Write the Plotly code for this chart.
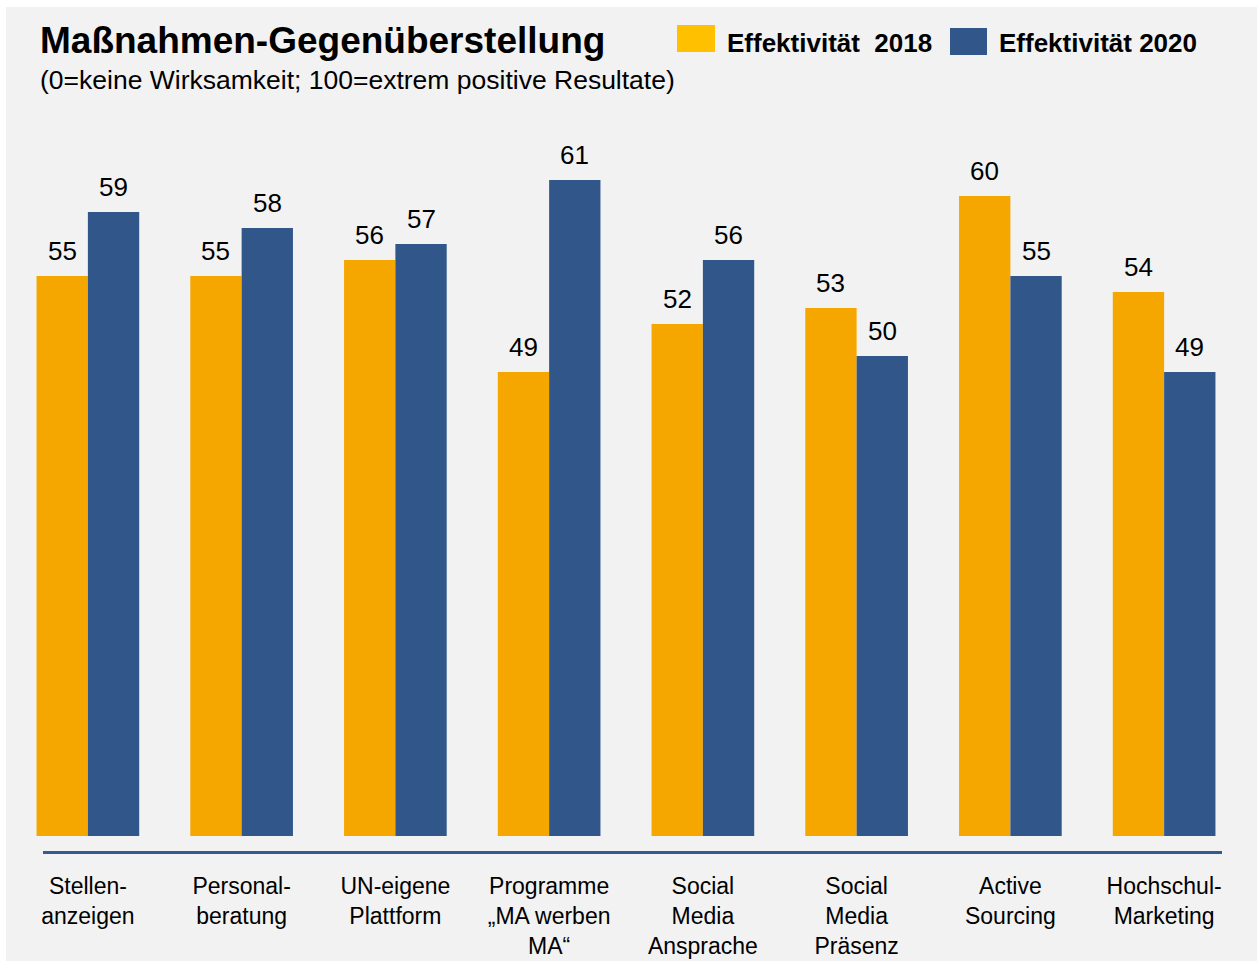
import plotly.graph_objects as go

# Categories (multi-line labels) and effectiveness scores
categories = [
    "Stellen-<br>anzeigen",
    "Personal-<br>beratung",
    "UN-eigene<br>Plattform",
    "Programme<br>„MA werben<br>MA“",
    "Social<br>Media<br>Ansprache",
    "Social<br>Media<br>Präsenz",
    "Active<br>Sourcing",
    "Hochschul-<br>Marketing",
]
effekt_2018 = [55, 55, 56, 49, 52, 53, 60, 54]
effekt_2020 = [59, 58, 57, 61, 56, 50, 55, 49]
series_names = ["Effektivität\u00a0\u00a02018", "Effektivität 2020"]

BASE = 20  # bars start at this value on the scale

ORANGE = "#F5A700"
ORANGE_LEGEND = "#FFC000"
BLUE = "#31568A"
AXIS_BLUE = "#36598F"
BG = "#F2F2F2"
FONT = "Liberation Sans, Arial, sans-serif"

W, H = 1259, 961
ML, MR, MT, MB = 11, 18, 100, 109
PW, PH = W - ML - MR, H - MT - MB
BARGAP = 0.3324


def px_x(px):
    return (px - ML) / PW


def px_y(py):
    return (H - MB - py) / PH


fig = go.Figure()
for vals, color, name in [(effekt_2018, ORANGE, series_names[0]),
                          (effekt_2020, BLUE, series_names[1])]:
    fig.add_trace(go.Bar(
        x=categories,
        y=[v - BASE for v in vals],
        base=BASE,
        name=name,
        marker=dict(color=color, line=dict(width=0)),
        customdata=vals,
        hovertemplate="%{x}: %{customdata}<extra>" + name + "</extra>",
    ))

# Value labels above the bars
annotations = []
bar_px = PW / len(categories) * (1 - BARGAP) / 2
for vals, sign in [(effekt_2018, -1), (effekt_2020, 1)]:
    for cat, v in zip(categories, vals):
        annotations.append(dict(
            x=cat, y=v, xref="x", yref="y", text=str(v), showarrow=False,
            xshift=sign * bar_px / 2, yanchor="bottom", yshift=8,
            font=dict(size=26, color="#000000", family=FONT),
        ))

# Title and subtitle
annotations.append(dict(
    x=px_x(38), y=px_y(40), xref="paper", yref="paper", xanchor="left",
    yanchor="middle", showarrow=False, text="<b>Maßnahmen-Gegenüberstellung</b>",
    font=dict(size=37, color="#000000", family=FONT),
))
annotations.append(dict(
    x=px_x(38), y=px_y(80), xref="paper", yref="paper", xanchor="left",
    yanchor="middle", showarrow=False,
    text="(0=keine Wirksamkeit; 100=extrem positive Resultate)",
    font=dict(size=26.5, color="#000000", family=FONT),
))

# Background panel and baseline rule
shapes = [
    dict(type="rect", xref="paper", yref="paper", layer="below",
         x0=px_x(6), x1=px_x(1257), y0=px_y(7), y1=px_y(H + 2),
         fillcolor=BG, line=dict(width=0)),
    dict(type="line", xref="paper", yref="paper",
         x0=px_x(43), x1=px_x(1222), y0=px_y(852.5), y1=px_y(852.5),
         line=dict(color=AXIS_BLUE, width=3)),
]

# Legend entries
legend_items = [(ORANGE_LEGEND, series_names[0], 677, 715, 25, 52, 725),
                (BLUE, series_names[1], 950, 987, 28, 55, 997)]
for color, name, x0, x1, y0, y1, tx in legend_items:
    shapes.append(dict(type="rect", xref="paper", yref="paper",
                       x0=px_x(x0), x1=px_x(x1), y0=px_y(y0), y1=px_y(y1),
                       fillcolor=color, line=dict(width=0)))
    annotations.append(dict(
        x=px_x(tx), y=px_y(43), xref="paper", yref="paper", xanchor="left",
        yanchor="middle", showarrow=False, text="<b>" + name + "</b>",
        font=dict(size=26, color="#000000", family=FONT),
    ))

fig.update_layout(
    width=W, height=H,
    margin=dict(l=ML, r=MR, t=MT, b=MB, pad=0, autoexpand=False),
    paper_bgcolor="#FFFFFF",
    plot_bgcolor="rgba(0,0,0,0)",
    barmode="group", bargap=BARGAP, bargroupgap=0,
    showlegend=False,
    font=dict(family=FONT, size=23, color="#000000"),
    xaxis=dict(
        type="category", range=[-0.5, len(categories) - 0.5], showgrid=False,
        showline=False, ticks="", ticklabelstandoff=18, automargin=False,
        tickfont=dict(size=23, color="#000000", family=FONT),
        fixedrange=True,
    ),
    yaxis=dict(range=[19, 66], visible=False, fixedrange=True),
    shapes=shapes,
    annotations=annotations,
)

fig.write_html("out.html", config={"displayModeBar": False})
